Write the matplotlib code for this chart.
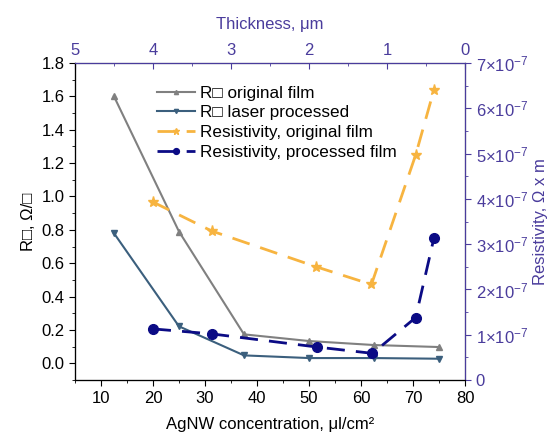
import matplotlib
matplotlib.use('Agg')
import matplotlib.pyplot as plt
from matplotlib.ticker import MultipleLocator, FuncFormatter

plt.rcParams['font.family'] = ['Liberation Sans', 'DejaVu Sans']
plt.rcParams['mathtext.fontset'] = 'custom'
plt.rcParams['mathtext.rm'] = 'Liberation Sans'
plt.rcParams['mathtext.it'] = 'Liberation Sans:italic'

# sheet resistance data (left axis)
conc_r = [12.5, 25, 37.5, 50, 62.5, 75]
r_original = [1.60, 0.79, 0.174, 0.134, 0.11, 0.098]
r_laser = [0.78, 0.222, 0.048, 0.032, 0.032, 0.028]

# resistivity data (right axis)
conc_res_orig = [20, 31.3, 51.4, 62, 70.5, 74]
res_original = [3.93e-7, 3.29e-7, 2.50e-7, 2.11e-7, 4.97e-7, 6.40e-7]
conc_res_proc = [20, 31.3, 51.5, 62.2, 70.5, 74]
res_processed = [1.13e-7, 1.02e-7, 0.73e-7, 0.59e-7, 1.38e-7, 3.13e-7]

purple = '#4a3c9c'


def main():
    fig = plt.figure(figsize=(5.55, 4.43), dpi=100)
    ax = fig.add_axes([0.135, 0.142, 0.703, 0.716])

    l1, = ax.plot(conc_r, r_original, color='#808080', marker='^', ms=5,
                  lw=1.5, label='R\u25a1 original film')
    l2, = ax.plot(conc_r, r_laser, color='#3b5f7d', marker='v', ms=5,
                  lw=1.5, label='R\u25a1 laser processed')
    ax.set_xlim(5, 80)
    ax.set_ylim(-0.1, 1.8)
    ax.xaxis.set_major_locator(MultipleLocator(10))
    ax.xaxis.set_minor_locator(MultipleLocator(5))
    ax.yaxis.set_major_locator(MultipleLocator(0.2))
    ax.yaxis.set_minor_locator(MultipleLocator(0.1))
    ax.yaxis.set_major_formatter(FuncFormatter(lambda v, p: f'{v:.1f}'))
    ax.tick_params(which='both', direction='out', labelsize=12, top=False, right=False)
    ax.tick_params(which='major', length=4)
    ax.tick_params(which='minor', length=2)
    ax.set_xlabel('AgNW concentration, \u03bcl/cm\u00b2', fontsize=12, labelpad=8)
    ax.set_ylabel('R\u25a1, \u03a9/\u25a1', fontsize=12)

    # top axis: thickness
    axt = ax.twiny()
    axt.set_xlim(5, 0)
    axt.xaxis.set_major_locator(MultipleLocator(1))
    axt.xaxis.set_minor_locator(MultipleLocator(0.5))
    axt.tick_params(axis='x', which='both', direction='in', colors=purple, labelsize=12)
    axt.tick_params(which='major', length=4)
    axt.tick_params(which='minor', length=2)
    axt.set_xlabel('Thickness, \u03bcm', color=purple, fontsize=12, labelpad=10)

    # right axis: resistivity
    ax2 = ax.twinx()
    l3, = ax2.plot(conc_res_orig, res_original, color='#f7b440', marker='*', ms=8,
                   lw=2, dashes=(6.5, 4), label='Resistivity, original film')
    l4, = ax2.plot(conc_res_proc, res_processed, color='#0b0b85', marker='o', ms=7,
                   lw=2, dashes=(6.5, 4), label='Resistivity, processed film')
    ax2.set_ylim(0, 7e-7)
    ax2.yaxis.set_major_locator(MultipleLocator(1e-7))
    ax2.yaxis.set_minor_locator(MultipleLocator(0.5e-7))

    def fmt(v, p):
        n = int(round(v / 1e-7))
        if n == 0:
            return '0'
        return r'$%d{\times}10^{-7}$' % n

    ax2.yaxis.set_major_formatter(FuncFormatter(fmt))
    ax2.tick_params(axis='y', which='both', direction='out', colors=purple, labelsize=12)
    ax2.tick_params(which='major', length=4)
    ax2.tick_params(which='minor', length=2)
    ax2.set_ylabel('Resistivity, \u03a9 x m', color=purple, fontsize=12)

    for a in (axt, ax2):
        a.spines['top'].set_color(purple)
        a.spines['right'].set_color(purple)
        a.spines['left'].set_color('black')
        a.spines['bottom'].set_color('black')

    ax2.legend(handles=[l1, l2, l3, l4], loc='upper left',
               bbox_to_anchor=(0.193, 0.95), frameon=False, fontsize=12.3,
               handlelength=2.2, handletextpad=0.3, labelspacing=0.28,
               borderaxespad=0, markerscale=0.6)

    fig.savefig('out.png', dpi=100)


if __name__ == "__main__":
    main()
